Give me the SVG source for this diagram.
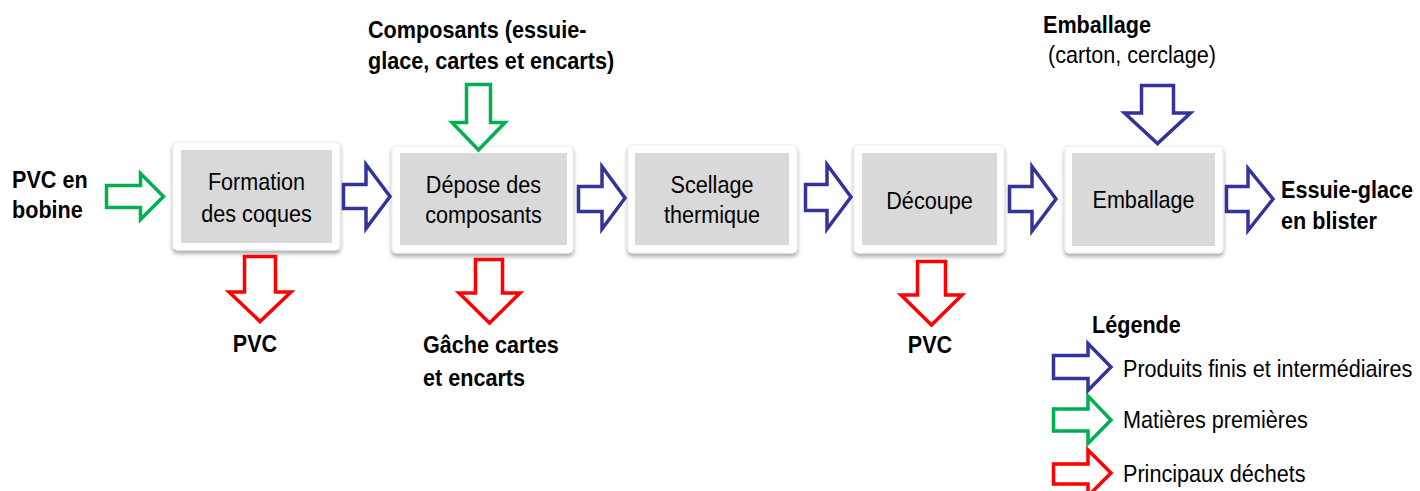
<svg xmlns="http://www.w3.org/2000/svg" width="1420" height="491" viewBox="0 0 1420 491">
<defs>
<filter id="sh" x="-10%" y="-10%" width="120%" height="130%">
<feDropShadow dx="0" dy="3" stdDeviation="2" flood-color="#000" flood-opacity="0.35"/>
</filter>
</defs>
<style>
text{font-family:"Liberation Sans",Arial,sans-serif;font-size:24px;fill:#000}
.b{font-weight:bold}
.m{text-anchor:middle}
.outer{fill:#fff;stroke:#ececec;stroke-width:1;filter:url(#sh)}
.inner{fill:#d9d9d9}
.ar{fill:#fff;stroke-width:3.5;stroke-linejoin:miter;stroke-miterlimit:10}
.bl{stroke:#333399}
.gr{stroke:#00b050}
.rd{stroke:#ff0000}
</style>
<rect width="1420" height="491" fill="#fff"/>

<g id="node-formation">
<rect class="outer" x="173" y="142" width="167" height="108" rx="4"/>
<rect class="inner" x="181" y="150" width="151" height="93"/>
<text class="m" transform="translate(256.5,190) scale(0.9,1)">Formation</text>
<text class="m" transform="translate(256.5,222) scale(0.9,1)">des coques</text>
</g>
<g id="node-depose">
<rect class="outer" x="392" y="146" width="181" height="107" rx="4"/>
<rect class="inner" x="400" y="153" width="167" height="92"/>
<text class="m" transform="translate(483.5,193) scale(0.9,1)">Dépose des</text>
<text class="m" transform="translate(483.5,223) scale(0.9,1)">composants</text>
</g>
<g id="node-scellage">
<rect class="outer" x="628" y="145" width="169" height="108" rx="4"/>
<rect class="inner" x="635" y="153" width="154" height="92"/>
<text class="m" transform="translate(712,193) scale(0.9,1)">Scellage</text>
<text class="m" transform="translate(712,223) scale(0.9,1)">thermique</text>
</g>
<g id="node-decoupe">
<rect class="outer" x="854" y="145" width="150" height="108" rx="4"/>
<rect class="inner" x="862" y="153" width="135" height="92"/>
<text class="m" transform="translate(929.5,209) scale(0.9,1)">Découpe</text>
</g>
<g id="node-emballage">
<rect class="outer" x="1065" y="146" width="158" height="107" rx="4"/>
<rect class="inner" x="1072" y="153" width="143" height="93"/>
<text class="m" transform="translate(1143.5,208) scale(0.9,1)">Emballage</text>
</g>

<g id="connectors">
<path class="ar gr" d="M106.5,185.5 H140.5 V173.5 L163.5,196.5 L140.5,219.5 V207.5 H106.5 Z"/>
<path class="ar bl" d="M343.5,184.5 H366 V164.5 L390,196.5 L366,228.5 V208.5 H343.5 Z"/>
<path class="ar bl" d="M578.5,186.5 H602 V166.5 L625,198 L602,229 V211.5 H578.5 Z"/>
<path class="ar bl" d="M805.5,184.5 H827 V164.5 L851,197 L827,229 V210.5 H805.5 Z"/>
<path class="ar bl" d="M1009.5,186.5 H1032 V166.5 L1056,199 L1032,231 V211.5 H1009.5 Z"/>
<path class="ar bl" d="M1226.5,186.5 H1248 V168.5 L1273,199 L1248,230.5 V211.5 H1226.5 Z"/>
<path class="ar gr" d="M466.5,84.5 H490.5 V122.5 H505 L478.5,150 L452,122.5 H466.5 Z"/>
<path class="ar bl" d="M1141.5,85.5 H1173.5 V113 H1190.5 L1157.5,143.5 L1124.5,113 H1141.5 Z"/>
<path class="ar rd" d="M244.5,256.5 H275.5 V292 H291 L260,321.5 L229,292 H244.5 Z"/>
<path class="ar rd" d="M475.5,259.5 H502.5 V293 H520 L489.5,323 L459,293 H475.5 Z"/>
<path class="ar rd" d="M917.5,261.5 H945.5 V295 H962 L931.5,325 L901,295 H917.5 Z"/>
</g>

<g id="labels">
<text class="b" transform="translate(12,188) scale(0.9,1)">PVC en</text>
<text class="b" transform="translate(12,218) scale(0.9,1)">bobine</text>
<text class="b" transform="translate(368,38) scale(0.9,1)">Composants (essuie-</text>
<text class="b" transform="translate(368,69) scale(0.9,1)">glace, cartes et encarts)</text>
<text class="b" transform="translate(1043,33) scale(0.9,1)">Emballage</text>
<text transform="translate(1048,63) scale(0.9,1)">(carton, cerclage)</text>
<text class="b" transform="translate(1281,198) scale(0.9,1)">Essuie-glace</text>
<text class="b" transform="translate(1281,229) scale(0.9,1)">en blister</text>
<text class="b m" transform="translate(255,352) scale(0.9,1)">PVC</text>
<text class="b" transform="translate(423,353) scale(0.9,1)">Gâche cartes</text>
<text class="b" transform="translate(423,386) scale(0.9,1)">et encarts</text>
<text class="b m" transform="translate(930,353) scale(0.9,1)">PVC</text>
</g>

<g id="legend">
<text class="b" transform="translate(1092,333) scale(0.9,1)">Légende</text>
<path class="ar bl" d="M1053.5,355.5 H1088 V343.5 L1111,367 L1088,390.5 V378.5 H1053.5 Z"/>
<text transform="translate(1123,377) scale(0.9,1)">Produits finis et intermédiaires</text>
<path class="ar gr" d="M1053.5,409 H1088 V396 L1111,420 L1088,443.5 V431 H1053.5 Z"/>
<text transform="translate(1123,428) scale(0.9,1)">Matières premières</text>
<path class="ar rd" d="M1053.5,464 H1088 V450 L1111,473 L1088,496 V484 H1053.5 Z"/>
<text transform="translate(1123,482) scale(0.9,1)">Principaux déchets</text>
</g>
</svg>
